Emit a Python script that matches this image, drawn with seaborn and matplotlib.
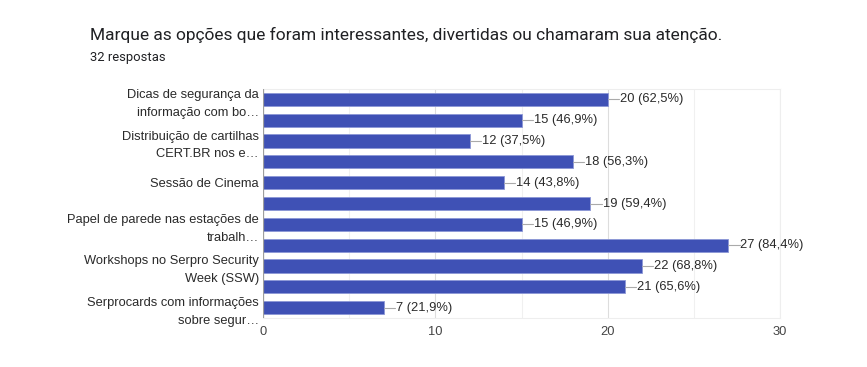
import seaborn as sns
import pandas as pd
import matplotlib.pyplot as plt

# dados (11 opções, só metade dos rótulos aparece)
opcoes = ['Dicas de segurança da\ninformação com bo…', 'op2',
          'Distribuição de cartilhas\nCERT.BR nos e…', 'op4',
          'Sessão de Cinema', 'op6',
          'Papel de parede nas estações de\ntrabalh…', 'op8',
          'Workshops no Serpro Security\nWeek (SSW)', 'op10',
          'Serprocards com informações\nsobre segur…']
respostas = [20, 15, 12, 18, 14, 19, 15, 27, 22, 21, 7]
percentuais = ['62,5%', '46,9%', '37,5%', '56,3%', '43,8%', '59,4%',
               '46,9%', '84,4%', '68,8%', '65,6%', '21,9%']
total = 32

df = pd.DataFrame({'opcao': opcoes, 'n': respostas})

sns.set_style('white')
plt.rcParams['font.family'] = ['Liberation Sans', 'DejaVu Sans']

fig = plt.figure(figsize=(8.67, 3.67), dpi=100)
ax = fig.add_axes([0.3033, 0.1335, 0.5964, 0.624])

sns.barplot(data=df, x='n', y='opcao', orient='h', color='#3f51b5',
            saturation=1, width=0.63, edgecolor='#8c97d6', linewidth=0.6, ax=ax)

# linhas de grade
for v in range(0, 31, 5):
    ax.axvline(v, color='#dddddd' if v % 10 == 0 else '#f0f0f0', lw=0.8, zorder=0)
ax.axvline(0, color='#9e9e9e', lw=0.9, zorder=3)
ax.set_xlim(0, 30)
ax.set_ylim(len(opcoes) - 0.5, -0.5)
ax.set_xticks([0, 10, 20, 30])
ax.tick_params(axis='x', length=0, labelsize=9.3, labelcolor='#444444', pad=6)
ax.tick_params(axis='y', length=0, labelsize=9.3, labelcolor='#2a2a2a', pad=3)

pos = list(range(0, len(opcoes), 2))
ax.set_yticks(pos)
ax.set_yticklabels([opcoes[i] for i in pos], linespacing=1.65)
ax.set_xlabel('')
ax.set_ylabel('')
for s in ax.spines.values():
    s.set_color('#eeeeee')
    s.set_linewidth(0.8)
ax.spines['left'].set_visible(False)

# rótulos de valor com linha de ligação
for i, (n, p) in enumerate(zip(respostas, percentuais)):
    ax.plot([n, n + 0.65], [i, i], color='#aaaaaa', lw=0.8, zorder=4)
    ax.text(n + 0.7, i, f'{n} ({p})', va='center', ha='left',
            fontsize=9.3, color='#2a2a2a')

fig.text(0.104, 0.905, 'Marque as opções que foram interessantes, divertidas ou chamaram sua atenção.',
         fontsize=12.5, color='#202124', family=['Roboto', 'DejaVu Sans'], va='center')
fig.text(0.104, 0.842, f'{total} respostas', fontsize=9.4, color='#202124',
         family=['Roboto', 'DejaVu Sans'], va='center')

fig.savefig('out.png', dpi=100, facecolor='white')
